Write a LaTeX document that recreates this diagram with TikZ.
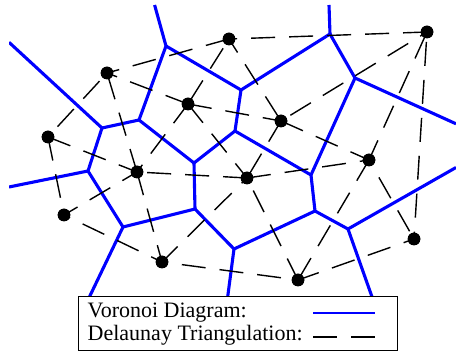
\documentclass[tikz,border=0pt]{standalone}
\usepackage{fontspec}
\setmainfont{Liberation Serif}
\begin{document}
\begin{tikzpicture}[x=1pt,y=-1pt,
  vor/.style={blue, line width=3.1pt, line join=round},
  del/.style={black, line width=1.4pt, dash pattern=on 24pt off 14pt},
  dot/.style={circle, fill=black, inner sep=0pt, minimum size=12.6pt},
  legbox/.style={draw=black, line width=0.9pt, fill=white, inner sep=0pt, minimum width=318.5pt, minimum height=54pt},
  legtext/.style={inner sep=0pt, anchor=base west, font=\fontsize{22}{24}\selectfont}]
\useasboundingbox (0,0) rectangle (456,352);
% Voronoi vertices
\coordinate (v1) at (166,46);
\coordinate (v2) at (139,120);
\coordinate (v3) at (102,128);
\coordinate (v4) at (88,171);
\coordinate (v5) at (194,163);
\coordinate (v6) at (241,90);
\coordinate (v7) at (235,131);
\coordinate (v8) at (330,34);
\coordinate (v9) at (355,78);
\coordinate (v10) at (311,175);
\coordinate (v11) at (315,211);
\coordinate (v12) at (348,229);
\coordinate (v13) at (234,249);
\coordinate (v14) at (195,209);
\coordinate (v15) at (123,227);
% ray ends
\coordinate (r1) at (154.6,5);
\coordinate (r2) at (329,5);
\coordinate (r3) at (9,42.3);
\coordinate (r4) at (9,187);
\coordinate (r5) at (63,352);
\coordinate (r6) at (220.4,352);
\coordinate (r7) at (391.5,352);
\coordinate (r8) at (456,123.8);
\coordinate (r9) at (456,167.5);
\begin{scope}
\clip (9,5) rectangle (456,297);
\draw[vor] (v1) -- (v2);
\draw[vor] (v1) -- (v6);
\draw[vor] (v2) -- (v3);
\draw[vor] (v2) -- (v5);
\draw[vor] (v3) -- (v4);
\draw[vor] (v4) -- (v15);
\draw[vor] (v5) -- (v7);
\draw[vor] (v5) -- (v14);
\draw[vor] (v6) -- (v7);
\draw[vor] (v6) -- (v8);
\draw[vor] (v7) -- (v10);
\draw[vor] (v8) -- (v9);
\draw[vor] (v9) -- (v10);
\draw[vor] (v10) -- (v11);
\draw[vor] (v11) -- (v12);
\draw[vor] (v11) -- (v13);
\draw[vor] (v13) -- (v14);
\draw[vor] (v14) -- (v15);
\draw[vor] (v1) -- (r1);
\draw[vor] (v8) -- (r2);
\draw[vor] (v3) -- (r3);
\draw[vor] (v4) -- (r4);
\draw[vor] (v15) -- (r5);
\draw[vor] (v13) -- (r6);
\draw[vor] (v12) -- (r7);
\draw[vor] (v9) -- (r8);
\draw[vor] (v12) -- (r9);
\end{scope}
% Delaunay points
\node[dot] (p1) at (229,39) {};
\node[dot] (p2) at (427,32) {};
\node[dot] (p3) at (107,73) {};
\node[dot] (p4) at (188,104) {};
\node[dot] (p5) at (281,121) {};
\node[dot] (p6) at (48,137) {};
\node[dot] (p7) at (137,172) {};
\node[dot] (p8) at (247,178) {};
\node[dot] (p9) at (369,160) {};
\node[dot] (p10) at (64,215) {};
\node[dot] (p11) at (162,262) {};
\node[dot] (p12) at (298,280) {};
\node[dot] (p13) at (414,239) {};
% Delaunay edges
\draw[del] (p2.center) -- (p1.center);
\draw[del] (p1.center) -- (p3.center);
\draw[del, dash phase=27pt] (p1.center) -- (p4.center);
\draw[del, dash phase=8pt] (p1.center) -- (p5.center);
\draw[del, dash phase=16pt] (p2.center) -- (p5.center);
\draw[del, dash phase=33pt] (p2.center) -- (p9.center);
\draw[del, dash phase=28pt] (p2.center) -- (p13.center);
\draw[del] (p4.center) -- (p3.center);
\draw[del, dash phase=27pt] (p3.center) -- (p6.center);
\draw[del] (p7.center) -- (p3.center);
\draw[del] (p4.center) -- (p5.center);
\draw[del] (p4.center) -- (p7.center);
\draw[del] (p4.center) -- (p8.center);
\draw[del] (p5.center) -- (p8.center);
\draw[del] (p5.center) -- (p9.center);
\draw[del] (p6.center) -- (p7.center);
\draw[del] (p6.center) -- (p10.center);
\draw[del] (p8.center) -- (p7.center);
\draw[del, dash phase=7pt] (p7.center) -- (p10.center);
\draw[del] (p7.center) -- (p11.center);
\draw[del, dash phase=2pt] (p11.center) -- (p8.center);
\draw[del] (p8.center) -- (p9.center);
\draw[del] (p12.center) -- (p8.center);
\draw[del] (p9.center) -- (p12.center);
\draw[del, dash phase=18pt] (p9.center) -- (p13.center);
\draw[del, dash phase=12pt] (p11.center) -- (p10.center);
\draw[del, dash phase=18pt] (p11.center) -- (p12.center);
\draw[del, dash phase=2pt] (p12.center) -- (p13.center);
% redraw dots on top
\foreach \n in {p1,p2,p3,p4,p5,p6,p7,p8,p9,p10,p11,p12,p13}
  \fill (\n.center) circle (6.3pt);
% legend
\node[legbox] (legend) at (237.75,323) {};
\node[legtext] (t1) at (87.5,318) {Voronoi Diagram:};
\node[legtext] (t2) at (87.5,341) {Delaunay Triangulation:};
\coordinate (l1a) at (313,313);
\coordinate (l1b) at (375,313);
\coordinate (l2a) at (313,337);
\coordinate (l2b) at (375,337);
\draw[blue, line width=2.2pt] (l1a) -- (l1b);
\draw[del] (l2a) -- (l2b);
\end{tikzpicture}
\end{document}
